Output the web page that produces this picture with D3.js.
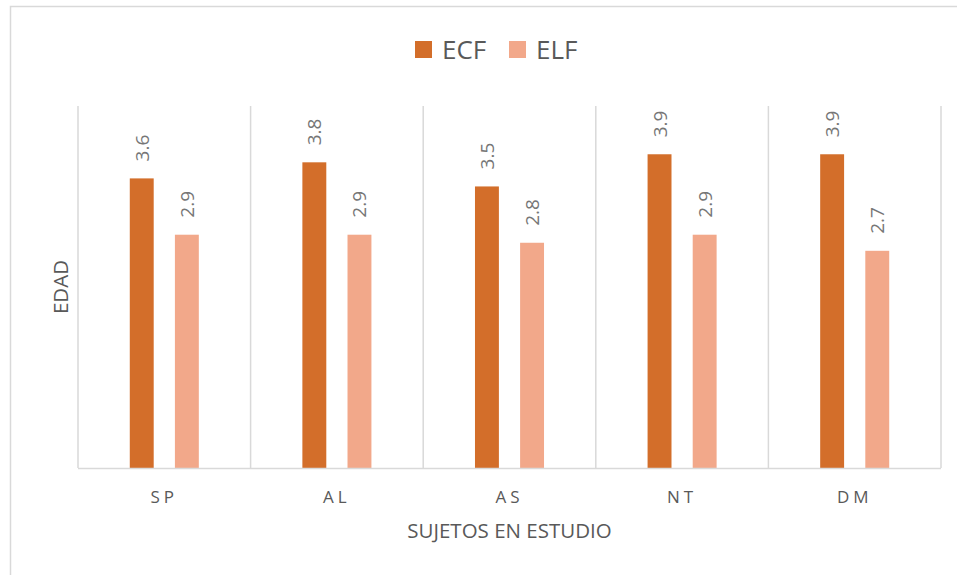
<!DOCTYPE html>
<html>
<head>
<meta charset="utf-8">
<style>
  body { margin: 0; background: #fff; }
  text { font-family: "Open Sans", sans-serif; fill: #595959; }
</style>
<script src="https://cdn.jsdelivr.net/npm/d3@7"></script>
</head>
<body>
<div id="chart"></div>
<script>
  const categories = ['SP', 'AL', 'AS', 'NT', 'DM'];
  const seriesNames = ['ECF', 'ELF'];
  const ecfValues = [3.6, 3.8, 3.5, 3.9, 3.9];
  const elfValues = [2.9, 2.9, 2.8, 2.9, 2.7];
  const colors = ['#D36E2A', '#F2A88A'];

  const width = 957;
  const height = 575;
  const plot = { left: 78, right: 941, top: 106, bottom: 468 };

  const svg = d3.select('#chart').append('svg')
    .attr('width', width)
    .attr('height', height);

  // chart frame (cut off on right and bottom)
  svg.append('rect')
    .attr('x', 10.5).attr('y', 6.5)
    .attr('width', 1000).attr('height', 1000)
    .attr('fill', 'none')
    .attr('stroke', '#d9d9d9')
    .attr('stroke-width', 1.5);

  const x = d3.scaleBand()
    .domain(categories)
    .range([plot.left, plot.right]);

  const xInner = d3.scaleBand()
    .domain(seriesNames)
    .range([x.bandwidth() * 0.3, x.bandwidth() * 0.7])
    .paddingInner(0.47);

  const y = d3.scaleLinear()
    .domain([0, 4.5])
    .range([plot.bottom, plot.top]);

  // vertical gridlines between categories
  const gridX = categories.map(c => x(c)).concat([plot.right]);
  svg.append('g')
    .selectAll('line')
    .data(gridX)
    .join('line')
    .attr('x1', d => d).attr('x2', d => d)
    .attr('y1', plot.top).attr('y2', plot.bottom)
    .attr('stroke', '#d9d9d9')
    .attr('stroke-width', 1.5);

  const rows = categories.map((c, i) => ({
    cat: c,
    vals: [
      { s: 'ECF', v: ecfValues[i], color: colors[0] },
      { s: 'ELF', v: elfValues[i], color: colors[1] }
    ]
  }));

  const groups = svg.append('g')
    .selectAll('g')
    .data(rows)
    .join('g')
    .attr('transform', d => `translate(${x(d.cat)},0)`);

  groups.selectAll('rect')
    .data(d => d.vals)
    .join('rect')
    .attr('x', d => xInner(d.s))
    .attr('width', xInner.bandwidth())
    .attr('y', d => y(d.v))
    .attr('height', d => y(0) - y(d.v))
    .attr('fill', d => d.color);

  groups.selectAll('text')
    .data(d => d.vals)
    .join('text')
    .attr('transform', d => `translate(${xInner(d.s) + xInner.bandwidth() / 2 + 7},${y(d.v) - 17}) rotate(-90)`)
    .attr('font-size', 19)
    .style('fill', '#767676')
    .text(d => d.v.toFixed(1));

  // x axis line
  svg.append('line')
    .attr('x1', plot.left).attr('x2', plot.right)
    .attr('y1', plot.bottom + 0.5).attr('y2', plot.bottom + 0.5)
    .attr('stroke', '#d9d9d9')
    .attr('stroke-width', 1.5);

  // category labels
  svg.append('g')
    .selectAll('text')
    .data(categories)
    .join('text')
    .attr('x', d => x(d) + x.bandwidth() / 2)
    .attr('y', 503)
    .attr('text-anchor', 'middle')
    .attr('font-size', 17)
    .attr('letter-spacing', 4)
    .text(d => d);

  // axis titles
  svg.append('text')
    .attr('x', (plot.left + plot.right) / 2)
    .attr('y', 538)
    .attr('text-anchor', 'middle')
    .attr('font-size', 20.5)
    .text('SUJETOS EN ESTUDIO');

  svg.append('text')
    .attr('transform', `translate(68,${(plot.top + plot.bottom) / 2}) rotate(-90)`)
    .attr('text-anchor', 'middle')
    .attr('font-size', 20.5)
    .text('EDAD');

  // legend
  const legend = svg.append('g');
  const legendX = [415, 509];
  seriesNames.forEach((s, i) => {
    legend.append('rect')
      .attr('x', legendX[i]).attr('y', 41)
      .attr('width', 17).attr('height', 17)
      .attr('fill', colors[i]);
    legend.append('text')
      .attr('x', legendX[i] + 27)
      .attr('y', 59)
      .attr('font-size', 26)
      .text(s);
  });
</script>
</body>
</html>
